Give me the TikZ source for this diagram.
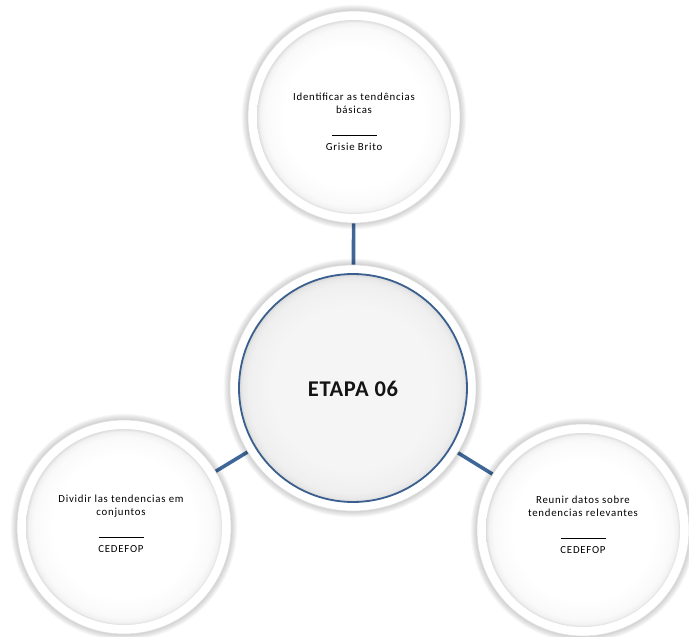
\documentclass[tikz,border=0pt]{standalone}
\usepackage{fontspec}
\setmainfont{Carlito}
\newfontfamily\captionface[LetterSpace=7]{Carlito}
\newfontfamily\hubface[LetterSpace=3]{Carlito}
\pgfdeclarelayer{links}
\pgfdeclarelayer{shades}
\pgfsetlayers{links,shades,main}
% soft inner fill of the discs (25bp = rim of the shaded circle)
\pgfdeclareradialshading{satfill}{\pgfpoint{0bp}{0bp}}{%
  color(0bp)=(white); color(18bp)=(white); color(23bp)=(black!2);
  color(24.3bp)=(black!5); color(25bp)=(black!13); color(50bp)=(black!13)}
\pgfdeclareradialshading{hubfill}{\pgfpoint{0bp}{0bp}}{%
  color(0bp)=(black!4); color(18bp)=(black!4); color(23bp)=(black!6);
  color(24.3bp)=(black!9); color(25bp)=(black!16); color(50bp)=(black!16)}
\newcommand{\discshadow}[2]{%
  \foreach \k in {0,...,7}{%
    \fill[black, opacity=0.028, shift={(1,3)}] (#1) circle ({#2pt+\k*0.9pt});}}
\begin{document}
\begin{tikzpicture}[x=1pt,y=-1pt]
\definecolor{linkblue}{HTML}{3E6798}
\definecolor{ringblue}{HTML}{3A5F8F}
\tikzset{
  link/.style={draw=linkblue, line width=3.6pt},
  disc/.style={circle, fill=white, draw=black!12, line width=0.6pt,
    inner sep=0pt, minimum size=#1},
  caption/.style={font=\captionface\fontsize{10.8}{13.5}\selectfont, align=center, text=black},
  hubtext/.style={font=\hubface\fontsize{22.5}{24}\selectfont\bfseries, text=black!92},
}
\useasboundingbox (0,0) rectangle (689,637);

% discs
\node[disc=212pt] (top)   at (354,117) {};
\node[disc=214pt] (left)  at (124,527) {};
\node[disc=212pt] (right) at (583,530) {};
\node[disc=246pt] (hub)   at (353,388) {};

% inner faces
\shade[shading=satfill] (top.center)   circle (97pt);
\shade[shading=satfill] (left.center)  circle (98pt);
\shade[shading=satfill] (right.center) circle (97pt);
\shadedraw[shading=hubfill, draw=ringblue, line width=1.8pt] (hub.center) circle (114pt);

% shadows and links behind the discs
\begin{pgfonlayer}{shades}
  \discshadow{top}{106}
  \discshadow{left}{107}
  \discshadow{right}{106}
  \discshadow{hub}{123}
\end{pgfonlayer}
\begin{pgfonlayer}{links}
  \draw[link] (hub.center) -- (top.center);
  \draw[link] (hub.center) -- (left.center);
  \draw[link] (hub.center) -- (right.center);
\end{pgfonlayer}

% texts
\node[hubtext] (hubLabel) at (353,389) {ETAPA 06};
\node[caption] (topLabel) at (354,122) {Identificar as tendências\\ básicas\\[8pt]
  \rule{45pt}{0.7pt}\\[2pt] Grisie Brito};
\node[caption] (leftLabel) at (121,524) {Dividir las tendencias em\\ conjuntos\\[8pt]
  \rule{45pt}{0.7pt}\\[2pt] CEDEFOP};
\node[caption] (rightLabel) at (583,525) {Reunir datos sobre\\ tendencias relevantes\\[8pt]
  \rule{45pt}{0.7pt}\\[2pt] CEDEFOP};
\end{tikzpicture}
\end{document}
